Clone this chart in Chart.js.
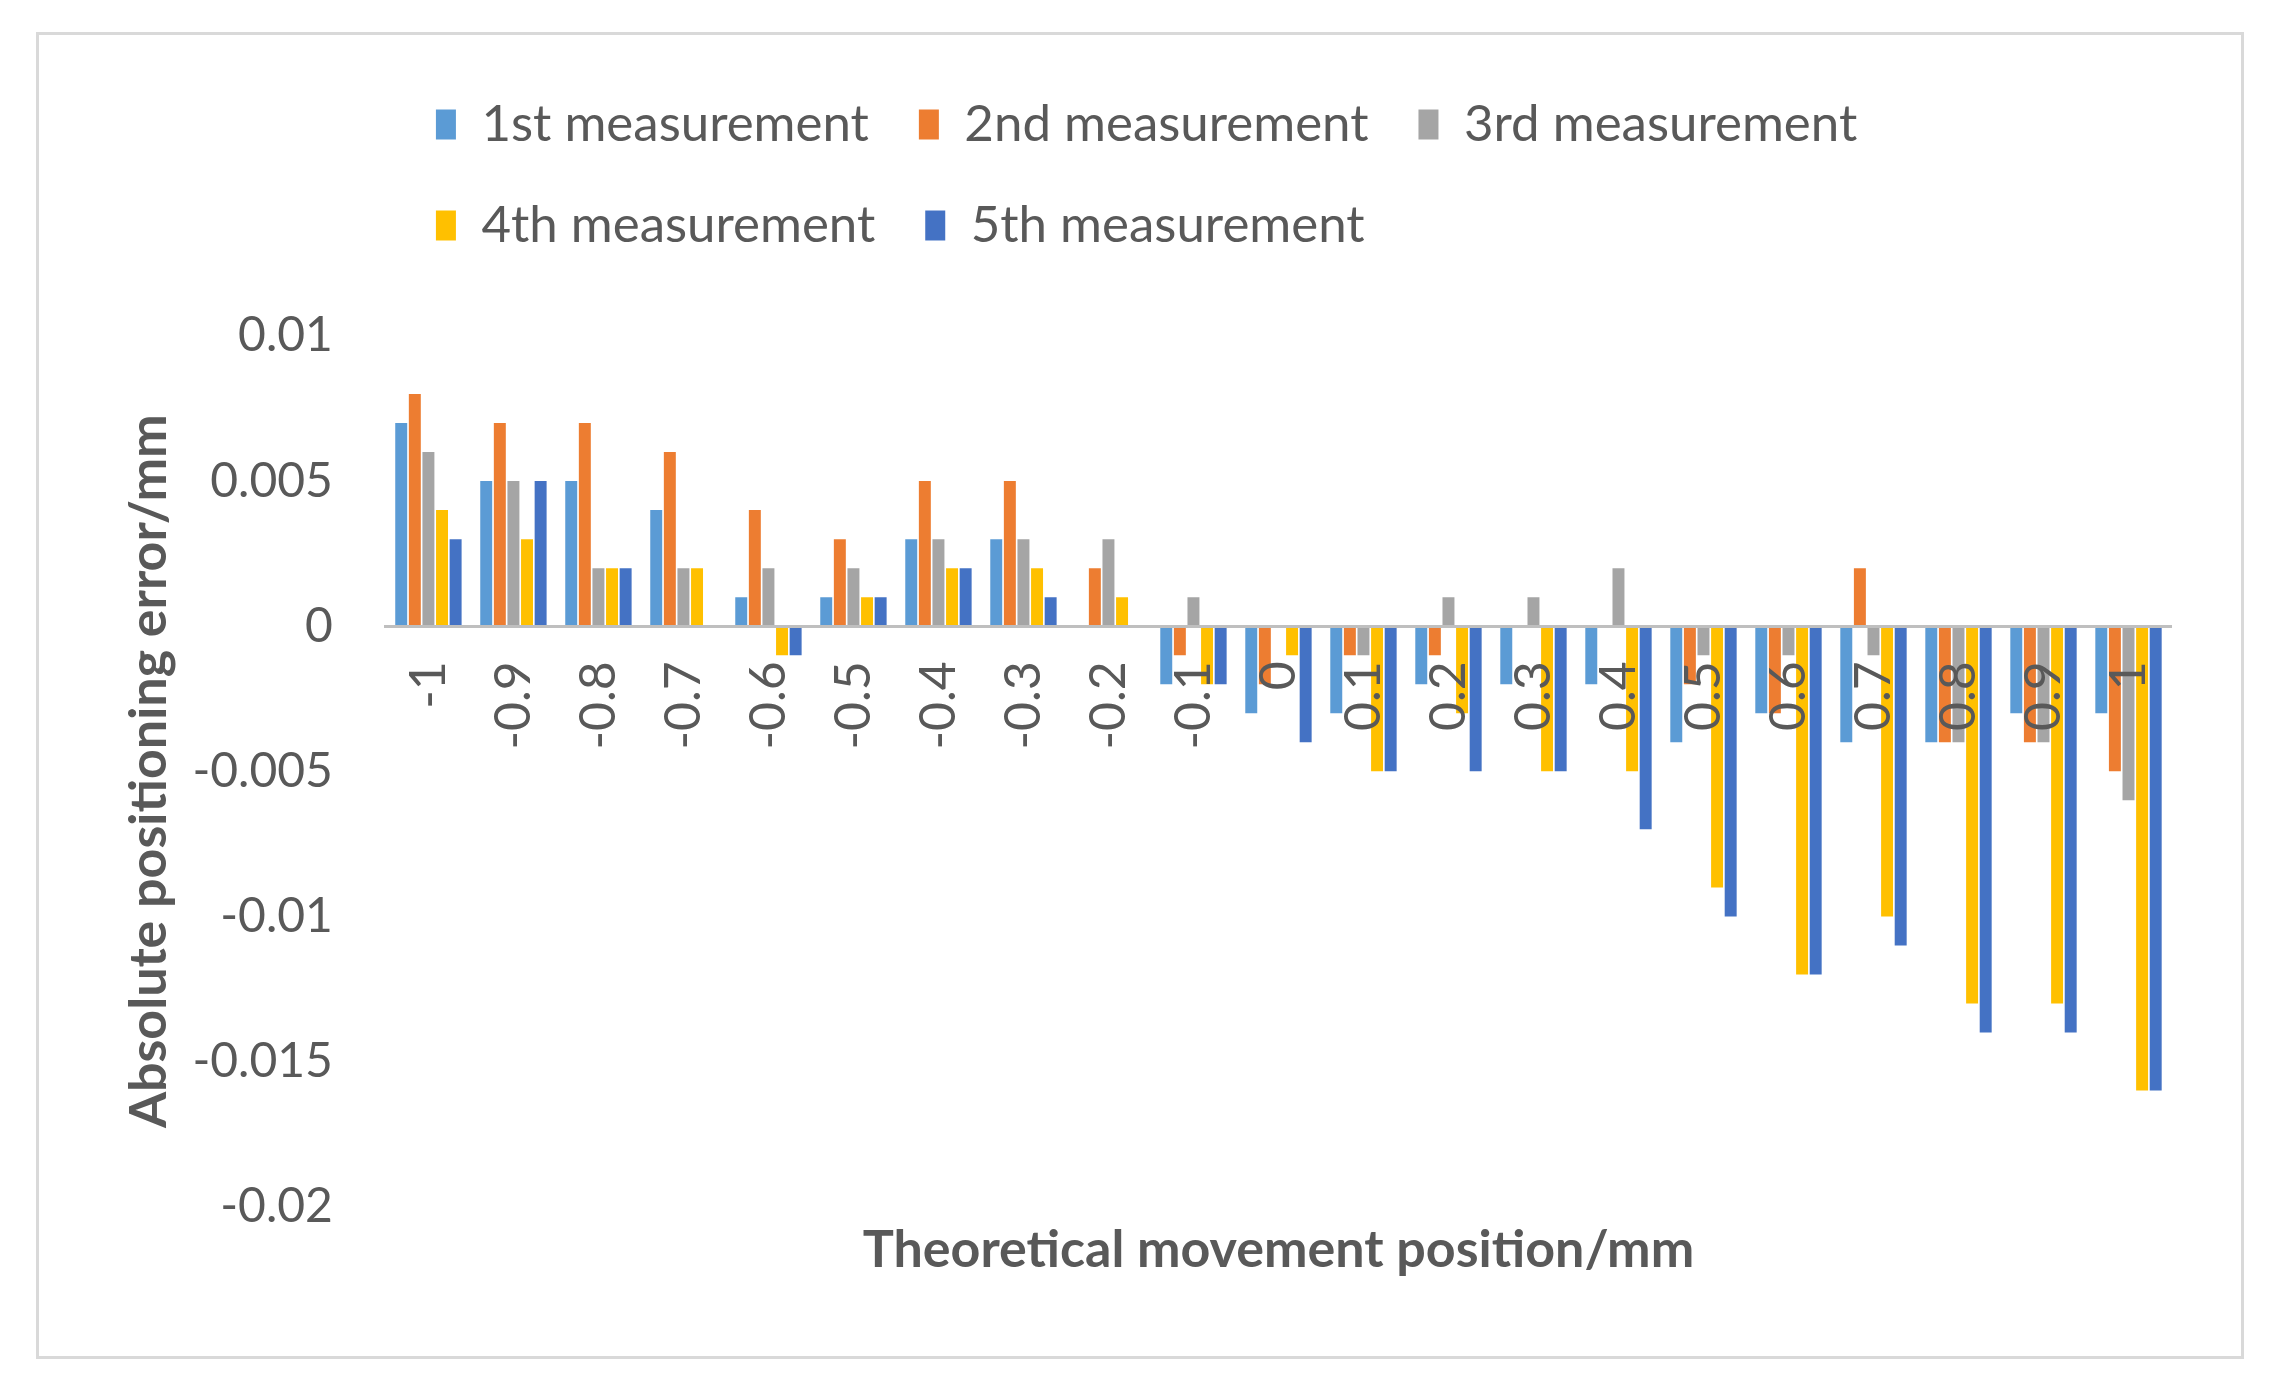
<!DOCTYPE html>
<html>
<head>
<meta charset="utf-8">
<script src="https://cdn.jsdelivr.net/npm/chart.js@4.4.1/dist/chart.umd.min.js"></script>
<style>
  html, body { margin: 0; padding: 0; background: #fff; }
  #wrap { position: relative; width: 2274px; height: 1395px; }
  #frame { position: absolute; left: 36px; top: 32px; width: 2208px; height: 1327px;
           box-sizing: border-box; border: 3px solid #d9d9d9; }
  #chart { position: absolute; left: 0; top: 0; }
</style>
</head>
<body>
<div id="wrap">
  <div id="frame"></div>
  <canvas id="chart" width="2274" height="1395"></canvas>
</div>
<script>
// Theoretical positions (mm) and measured absolute positioning errors (mm)
const POSITIONS = ['-1', '-0.9', '-0.8', '-0.7', '-0.6', '-0.5', '-0.4', '-0.3', '-0.2', '-0.1',
                   '0', '0.1', '0.2', '0.3', '0.4', '0.5', '0.6', '0.7', '0.8', '0.9', '1'];

const M1 = [0.007, 0.005, 0.005, 0.004, 0.001, 0.001, 0.003, 0.003, 0, -0.002,
            -0.003, -0.003, -0.002, -0.002, -0.002, -0.004, -0.003, -0.004, -0.004, -0.003, -0.003];
const M2 = [0.008, 0.007, 0.007, 0.006, 0.004, 0.003, 0.005, 0.005, 0.002, -0.001,
            -0.002, -0.001, -0.001, 0, 0, -0.002, -0.003, 0.002, -0.004, -0.004, -0.005];
const M3 = [0.006, 0.005, 0.002, 0.002, 0.002, 0.002, 0.003, 0.003, 0.003, 0.001,
            0, -0.001, 0.001, 0.001, 0.002, -0.001, -0.001, -0.001, -0.004, -0.004, -0.006];
const M4 = [0.004, 0.003, 0.002, 0.002, -0.001, 0.001, 0.002, 0.002, 0.001, -0.002,
            -0.001, -0.005, -0.003, -0.005, -0.005, -0.009, -0.012, -0.010, -0.013, -0.013, -0.016];
const M5 = [0.003, 0.005, 0.002, 0, -0.001, 0.001, 0.002, 0.001, 0, -0.002,
            -0.004, -0.005, -0.005, -0.005, -0.007, -0.010, -0.012, -0.011, -0.014, -0.014, -0.016];

const SERIES_NAMES = ['1st measurement', '2nd measurement', '3rd measurement', '4th measurement', '5th measurement'];
const Y_TICKS = [0.01, 0.005, 0, -0.005, -0.01, -0.015, -0.02];

const COLORS = ['#5B9BD5', '#ED7D31', '#A5A5A5', '#FFC000', '#4472C4'];
const TEXT = '#595959';

Chart.defaults.font.family = 'Lato';
Chart.defaults.color = TEXT;

const datasets = [M1, M2, M3, M4, M5].map((vals, i) => ({
    label: SERIES_NAMES[i],
    data: vals,
    backgroundColor: COLORS[i],
    borderWidth: 0,
    categoryPercentage: 0.8,
    barPercentage: 0.88
}));

new Chart(document.getElementById('chart'), {
    type: 'bar',
    data: { labels: POSITIONS, datasets },
    options: {
        responsive: false,
        animation: false,
        layout: { padding: { top: 49, left: 80, right: 103, bottom: 114 } },
        scales: {
            x: {
                position: { y: 0 },   // axis sits on the zero line, labels drawn over the bars
                grid: { display: false, drawTicks: false },
                border: { display: true, color: '#BFBFBF', width: 3, z: 1 },
                ticks: { minRotation: 90, maxRotation: 90, padding: 35, autoSkip: false, z: 1,
                         font: { size: 50 }, color: TEXT }
            },
            y: {
                min: -0.02, max: 0.01,
                afterBuildTicks: scale => { scale.ticks = Y_TICKS.map(v => ({ value: v })); },
                grid: { display: false, drawTicks: false },
                border: { display: false },
                ticks: { padding: 53, font: { size: 48 }, color: TEXT, callback: v => String(v) },
                // negative bottom padding pulls the tick labels' outer padding under the title
                title: { display: true, text: 'Absolute positioning error/mm', color: TEXT,
                         font: { size: 52, weight: 'bold' }, padding: { top: 38, bottom: -41 } }
            }
        },
        plugins: {
            legend: {
                position: 'top', align: 'start', fullSize: false,
                labels: { boxWidth: 20, boxHeight: 30, padding: 50, color: TEXT, font: { size: 51 } }
            },
            subtitle: { display: true, text: ' ', position: 'top', weight: 500, fullSize: false,
                        font: { size: 10 }, padding: { top: 63, bottom: 0 } },
            title: { display: true, text: 'Theoretical movement position/mm', position: 'bottom',
                     fullSize: false, color: TEXT, font: { size: 52, weight: 'bold' },
                     padding: { top: 12, bottom: 0 } },
            tooltip: { enabled: false }
        }
    }
});
</script>
</body>
</html>
